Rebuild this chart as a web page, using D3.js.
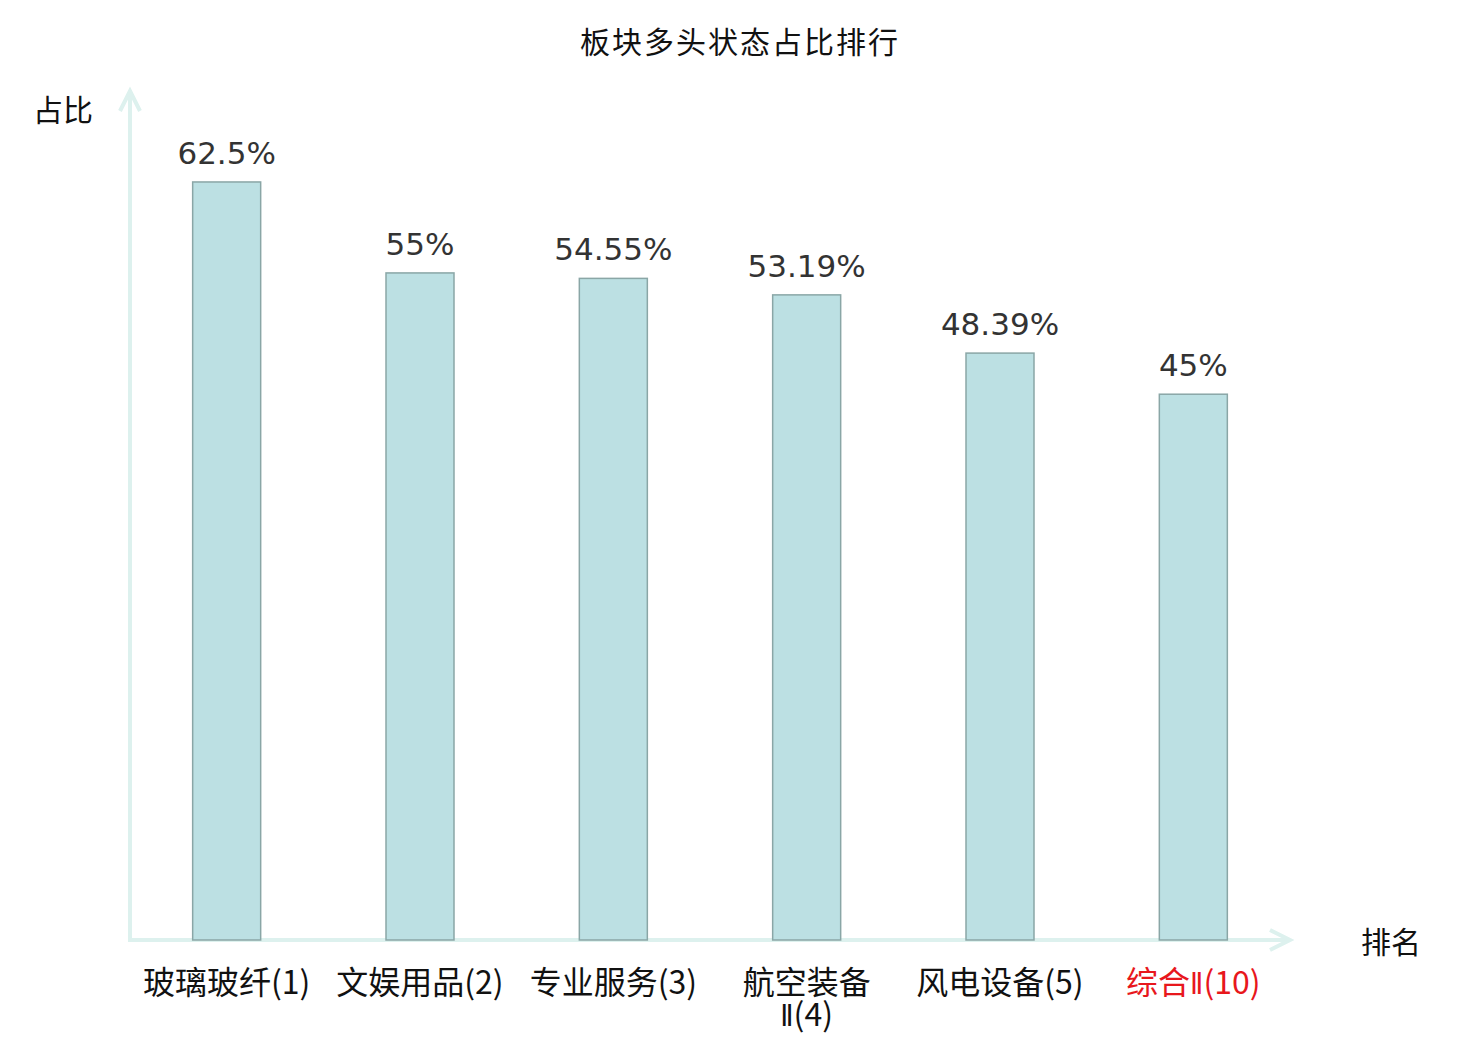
<!DOCTYPE html>
<html>
<head>
<meta charset="utf-8">
<script src="https://cdn.jsdelivr.net/npm/d3@7"></script>
<style>
  body { margin: 0; background: #fff; }
</style>
</head>
<body>
<div id="wrapper"></div>
<script>
const categories = ["玻璃玻纤(1)", "文娱用品(2)", "专业服务(3)", "航空装备Ⅱ(4)", "风电设备(5)", "综合Ⅱ(10)"];
const values = [62.5, 55, 54.55, 53.19, 48.39, 45];
const valueLabels = ["62.5%", "55%", "54.55%", "53.19%", "48.39%", "45%"];
const highlighted = ["综合Ⅱ(10)"];

function drawBars() {
  const dimensions = {
    width: 1480,
    height: 1040,
    margin: { top: 91, right: 190, bottom: 100, left: 130 },
  };
  dimensions.boundedWidth = dimensions.width - dimensions.margin.left - dimensions.margin.right;
  dimensions.boundedHeight = dimensions.height - dimensions.margin.top - dimensions.margin.bottom;

  const cjk = "'Noto Sans CJK SC', 'Noto Sans', sans-serif";
  const axisColor = "#ddf1ee";

  const wrapper = d3.select("#wrapper")
    .append("svg")
    .attr("width", dimensions.width)
    .attr("height", dimensions.height);

  const bounds = wrapper.append("g")
    .attr("transform", `translate(${dimensions.margin.left},${dimensions.margin.top})`);

  const xScale = d3.scaleBand()
    .domain(categories)
    .range([0, dimensions.boundedWidth]);

  const yScale = d3.scaleLinear()
    .domain([0, 70])
    .range([dimensions.boundedHeight, 0]);

  const barWidth = 68;

  // title
  wrapper.append("text")
    .attr("x", 740)
    .attr("y", 53)
    .attr("text-anchor", "middle")
    .style("font-family", cjk)
    .style("font-size", "30px")
    .style("letter-spacing", "2px")
    .attr("fill", "#111")
    .text("板块多头状态占比排行");

  // axes with open arrow heads
  const x0 = 0, y0 = yScale(0), yTop = yScale(70);
  bounds.append("line")
    .attr("x1", x0).attr("y1", y0)
    .attr("x2", x0).attr("y2", yTop)
    .attr("stroke", axisColor).attr("stroke-width", 4);
  bounds.append("path")
    .attr("d", `M${x0 - 10},${yTop + 20} L${x0},${yTop} L${x0 + 10},${yTop + 20}`)
    .attr("fill", "none").attr("stroke", axisColor).attr("stroke-width", 4);

  const xEnd = dimensions.boundedWidth;
  bounds.append("line")
    .attr("x1", x0 - 2).attr("y1", y0)
    .attr("x2", xEnd).attr("y2", y0)
    .attr("stroke", axisColor).attr("stroke-width", 4);
  bounds.append("path")
    .attr("d", `M${xEnd - 20},${y0 - 10} L${xEnd},${y0} L${xEnd - 20},${y0 + 10}`)
    .attr("fill", "none").attr("stroke", axisColor).attr("stroke-width", 4);

  // axis names
  wrapper.append("text")
    .attr("x", 63).attr("y", 121)
    .attr("text-anchor", "middle")
    .style("font-family", cjk).style("font-size", "30px")
    .attr("fill", "#111")
    .text("占比");
  wrapper.append("text")
    .attr("x", 1391).attr("y", 953)
    .attr("text-anchor", "middle")
    .style("font-family", cjk).style("font-size", "30px")
    .attr("fill", "#111")
    .text("排名");

  // bars
  bounds.selectAll("rect.bar")
    .data(values)
    .enter().append("rect")
    .attr("class", "bar")
    .attr("x", (d, i) => xScale(categories[i]) + xScale.bandwidth() / 2 - barWidth / 2)
    .attr("y", d => yScale(d))
    .attr("width", barWidth)
    .attr("height", d => yScale(0) - yScale(d))
    .attr("fill", "#bce0e3")
    .attr("stroke", "#8aa6a6")
    .attr("stroke-width", 1.5);

  // value labels
  bounds.selectAll("text.value")
    .data(values)
    .enter().append("text")
    .attr("class", "value")
    .attr("x", (d, i) => xScale(categories[i]) + xScale.bandwidth() / 2)
    .attr("y", d => yScale(d) - 18)
    .attr("text-anchor", "middle")
    .style("font-family", "'DejaVu Sans', sans-serif")
    .style("font-size", "31px")
    .attr("fill", "#333")
    .text((d, i) => valueLabels[i]);

  // category labels: CJK chars break one by one, ascii-ish runs stay together
  const maxLabelWidth = 178;
  const tokenize = s => s.match(/[\u4e00-\u9fff]|[^\u4e00-\u9fff]+/g);

  const labels = bounds.selectAll("text.cat")
    .data(categories)
    .enter().append("text")
    .attr("class", "cat")
    .attr("y", y0 + 54)
    .attr("text-anchor", "middle")
    .style("font-family", cjk)
    .style("font-size", "32px")
    .attr("fill", d => highlighted.includes(d) ? "#e8171c" : "#111");

  labels.each(function(d) {
    const el = d3.select(this);
    const cx = xScale(d) + xScale.bandwidth() / 2;
    const lines = [];
    let line = "";
    tokenize(d).forEach(tok => {
      el.text(line + tok);
      if (el.node().getComputedTextLength() > maxLabelWidth && line.length) {
        lines.push(line);
        line = tok;
      } else {
        line += tok;
      }
    });
    lines.push(line);
    el.text(null);
    lines.forEach((ln, i) => {
      const t = el.append("tspan").attr("x", cx).attr("dy", i ? 32 : 0);
      // the roman numeral is drawn narrow and light, as in the original
      ln.split(/(Ⅱ)/).filter(p => p).forEach(part => {
        const s = t.append("tspan").text(part);
        if (part === "Ⅱ") {
          s.style("font-family", "'DejaVu Sans Condensed', 'DejaVu Sans', sans-serif")
            .style("font-weight", "200")
            .style("font-size", "30px");
        }
      });
    });
  });
}

drawBars();
</script>
</body>
</html>
